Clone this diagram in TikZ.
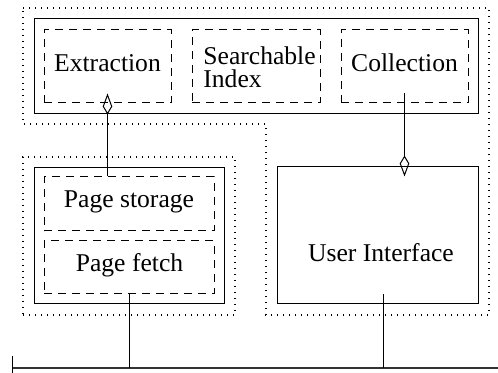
\documentclass[tikz,border=0pt]{standalone}
\usepackage{fontspec}
\setmainfont{Liberation Serif}
\usetikzlibrary{arrows.meta,fit}
\begin{document}
\begin{tikzpicture}[x=0.5pt,y=-0.5pt,
  txt/.style={font=\fontsize{12.8}{11.5}\selectfont, inner sep=0pt, anchor=base},
  solidbox/.style={draw, line width=0.5pt, inner sep=0pt},
  dashbox/.style={draw, line width=0.5pt, dash pattern=on 4pt off 3pt, inner sep=0pt},
  dotline/.style={line width=0.6pt, dash pattern=on 0.5pt off 2.5pt},
  link/.style={line width=0.5pt},
  kitelink/.style={line width=0.5pt,
                   -{Kite[open, length=10.5pt, width=4.8pt, inset=4pt]}},
  busline/.style={line width=0.6pt, black!80}
]
\useasboundingbox (0,0) rectangle (498,373);

% dotted groupings
\draw[dotline] (23,8) -- (489,8) -- (489,315) -- (266,315) -- (266,124)
               -- (23,124) -- cycle;
\node[dotline, draw, inner sep=0pt, fit={(23,157) (235,315)}] (storegroup) {};

% upper component
\node[solidbox, fit={(34,19) (478,114)}] (upper) {};
\node[dashbox, fit={(44,30) (171,103)}] (extraction) {};
\node[txt] (extractionlbl) at (107.5,72) {Extraction};
\node[dashbox, fit={(192,30) (320,103)}] (index) {};
\node[txt, anchor=base west] (searchlbl) at (203,65) {Searchable};
\node[txt, anchor=base west] (indexlbl) at (203,88) {Index};
\node[dashbox, fit={(341,30) (468,103)}] (collection) {};
\node[txt] (collectionlbl) at (404.5,72) {Collection};

% crawler component
\node[solidbox, fit={(34,168) (224,304)}] (crawler) {};
\node[dashbox, fit={(44,177) (214,231)}] (storage) {};
\node[txt] (storagelbl) at (129,208) {Page storage};
\node[dashbox, fit={(44,241) (214,294)}] (fetch) {};
\node[txt] (fetchlbl) at (129.5,272) {Page fetch};

% user interface
\node[solidbox, fit={(277,167) (478,304)}] (ui) {};
\node[txt] (uilbl) at (381,262) {User Interface};

% bus
\coordinate (busL) at (12,368);
\coordinate (busR) at (498,368);
\coordinate (tickTop) at (12,356);
\coordinate (tickBot) at (12,373);
\draw[busline] (busL) -- (busR);
\draw[link] (tickTop) -- (tickBot);

% connectors
\draw[kitelink] (storage.north -| extraction.south) -- ([yshift=5pt]extraction.south);
\draw[kitelink] ([yshift=5pt]collection.south) -- ([yshift=-5pt]ui.north -| collection.south);
\draw[link] (fetch.south) -- (fetch.south |- busL);
\draw[link] ([xshift=2.75pt,yshift=5pt]ui.south) -- ([xshift=2.75pt]ui.south |- busL);
\end{tikzpicture}
\end{document}
